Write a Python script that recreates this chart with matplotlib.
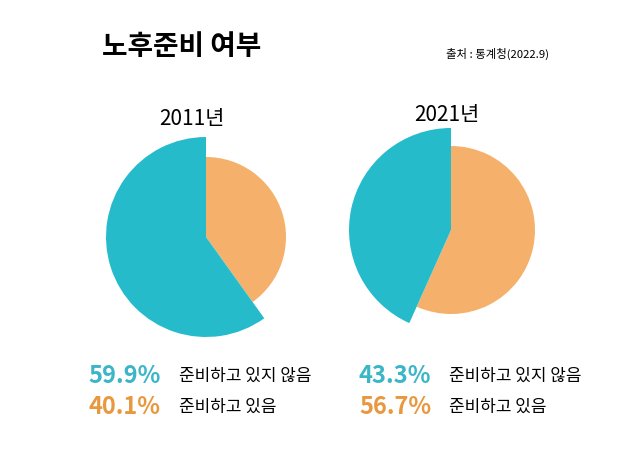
import matplotlib.pyplot as plt

plt.rcParams['font.family'] = ['Noto Sans CJK KR', 'DejaVu Sans']

# data
years = ['2011년', '2021년']
labels = ['준비하고 있지 않음', '준비하고 있음']
not_ready = [59.9, 43.3]
ready = [40.1, 56.7]

teal = '#26BBCB'
orange = '#F5B16B'
teal_txt = '#3AB6C7'
orange_txt = '#E8983F'

W, H = 620, 465
fig = plt.figure(figsize=(6.2, 4.65), dpi=100)


def px(x, y):
    return x / W, 1 - y / H


# title and source
fig.text(*px(182, 47), '노후준비 여부', fontsize=20, fontweight='bold',
         ha='center', va='center')
fig.text(*px(497, 54), '출처 : 통계청(2022.9)', fontsize=8.2,
         ha='center', va='center')

# pie centers (pixels) and radii for each year
centers = [(206, 237), (451, 230)]
r_small = [80, 84]
r_big = [100, 102]
title_pos = [(192, 119), (447, 115)]
pct_x = [125, 395]
lab_x = [179, 449]
rows_y = [376, 407]

for i in range(2):
    cx, cy = centers[i]
    ax = fig.add_axes([(cx - 120) / W, 1 - (cy + 120) / H, 240 / W, 240 / H])
    wedges, _ = ax.pie([ready[i], not_ready[i]], colors=[orange, teal],
                       startangle=90, counterclock=False, radius=r_small[i])
    wedges[1].set_radius(r_big[i])
    ax.set_xlim(-120, 120)
    ax.set_ylim(-120, 120)
    ax.axis('off')

    fig.text(*px(*title_pos[i]), years[i], fontsize=15, ha='center', va='center')

    # legend-like texts
    fig.text(*px(pct_x[i], rows_y[0]), f'{not_ready[i]}%', fontsize=17,
             fontweight='bold', color=teal_txt, ha='center', va='center')
    fig.text(*px(pct_x[i], rows_y[1]), f'{ready[i]}%', fontsize=17,
             fontweight='bold', color=orange_txt, ha='center', va='center')
    fig.text(*px(lab_x[i], rows_y[0]), labels[0], fontsize=12.2,
             ha='left', va='center')
    fig.text(*px(lab_x[i], rows_y[1]), labels[1], fontsize=12.2,
             ha='left', va='center')

plt.savefig('out.png', dpi=100)
